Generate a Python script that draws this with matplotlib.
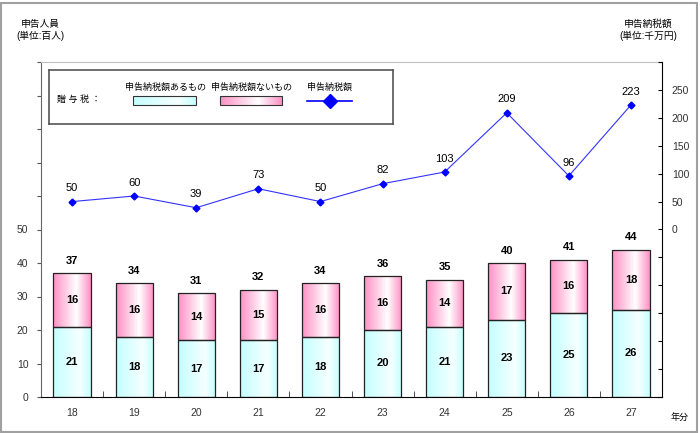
import numpy as np
import matplotlib
matplotlib.use("Agg")
import matplotlib.pyplot as plt
from matplotlib.colors import LinearSegmentedColormap
from matplotlib.patches import Rectangle
from matplotlib.lines import Line2D

plt.rcParams["font.family"] = ["Liberation Sans", "Noto Sans CJK JP", "DejaVu Sans"]

# data
years = ["18", "19", "20", "21", "22", "23", "24", "25", "26", "27"]
with_tax = [21, 18, 17, 17, 18, 20, 21, 23, 25, 26]      # 申告納税額あるもの (百人)
without_tax = [16, 16, 14, 15, 16, 16, 14, 17, 16, 18]   # 申告納税額ないもの (百人)
totals = [37, 34, 31, 32, 34, 36, 35, 40, 41, 44]
tax_amount = [50, 60, 39, 73, 50, 82, 103, 209, 96, 223]  # 申告納税額 (千万円)

W, H = 700, 433
cyan_cmap = LinearSegmentedColormap.from_list(
    "cy", [(0, "#c4ffff"), (0.72, "#f6ffff"), (1, "#c4ffff")])
pink_cmap = LinearSegmentedColormap.from_list(
    "pk", [(0, "#ff8fc4"), (0.62, "#ffffff"), (1, "#ff8fc4")])


def px(x0, y0, x1, y1):
    # pixel box (top-left origin) -> figure fraction rect
    return [x0 / W, 1 - y1 / H, (x1 - x0) / W, (y1 - y0) / H]


def fill_gradient(ax, patches, cmap):
    grad = np.linspace(0, 1, 128).reshape(1, -1)
    for p in patches:
        x, y = p.get_x(), p.get_y()
        im = ax.imshow(grad, cmap=cmap, aspect="auto", interpolation="bilinear",
                       extent=(x, x + p.get_width(), y, y + p.get_height()),
                       zorder=1)
        im.set_clip_path(p)


fig = plt.figure(figsize=(7, 4.33), dpi=100, facecolor="white")
fig.patches.append(Rectangle((1 / W, 1 / H), 1 - 4 / W, 1 - 4 / H, transform=fig.transFigure,
                             fill=False, edgecolor="#a0a0a0", linewidth=1.5))

ax = fig.add_axes(px(41, 62, 662, 397))
x = np.arange(len(years))
b1 = ax.bar(x, with_tax, width=0.6, facecolor="none", edgecolor="#222222",
            linewidth=0.9, zorder=2)
b2 = ax.bar(x, without_tax, width=0.6, bottom=with_tax, facecolor="none",
            edgecolor="#222222", linewidth=0.9, zorder=2)
fill_gradient(ax, b1, cyan_cmap)
fill_gradient(ax, b2, pink_cmap)

for i in range(len(years)):
    ax.text(x[i], with_tax[i] / 2, str(with_tax[i]), ha="center", va="center",
            fontsize=8, fontweight="bold", zorder=3)
    ax.text(x[i], with_tax[i] + without_tax[i] / 2, str(without_tax[i]),
            ha="center", va="center", fontsize=8, fontweight="bold", zorder=3)
    ax.text(x[i], totals[i] + 2.2, str(totals[i]), ha="center", va="bottom",
            fontsize=8, fontweight="bold", zorder=3)

ax.set_xlim(-0.5, len(years) - 0.5)
ax.set_ylim(0, 100)
ax.set_autoscale_on(False)
ax.set_yticks(np.arange(0, 101, 10))
ax.set_yticklabels([str(v) if v <= 50 else "" for v in range(0, 101, 10)])
ax.set_xticks(x)
ax.set_xticklabels(years)
ax.set_xticks(np.arange(0.5, len(years) - 1, 1), minor=True)
ax.tick_params(axis="x", which="major", length=0, pad=8, labelsize=7.5, labelcolor="#333333")
ax.tick_params(axis="x", which="minor", direction="in", length=4, color="#333333")
ax.tick_params(axis="y", direction="out", length=3, pad=6, labelsize=7.5,
               labelcolor="#333333", color="#555555")
ax.spines["left"].set_color("#666666")
ax.spines["top"].set_color("#c0c0c0")
ax.spines["bottom"].set_color("#000000")
ax.spines["right"].set_visible(False)

ax2 = ax.twinx()
ax2.plot(x, tax_amount, color="#3333ff", linewidth=0.8, marker="D",
         markersize=3.5, markerfacecolor="#0000ff", markeredgecolor="#0000ff", zorder=4)
for i in range(len(years)):
    ax2.text(x[i], tax_amount[i] + 15, str(tax_amount[i]), ha="center",
             va="bottom", fontsize=8, zorder=4)
ax2.set_ylim(-300, 300)
ax2.set_yticks(np.arange(-300, 301, 50))
ax2.set_yticklabels([str(v) if 0 <= v <= 250 else "" for v in range(-300, 301, 50)])
ax2.tick_params(axis="y", direction="in", length=3, pad=7, labelsize=7.5,
                labelcolor="#333333")
ax2.spines["right"].set_color("#000000")
for s in ("left", "top", "bottom"):
    ax2.spines[s].set_visible(False)

# legend box
lg = fig.add_axes(px(49, 70, 393, 124))
lg.set_xlim(49, 393)
lg.set_ylim(124, 70)
lg.set_xticks([])
lg.set_yticks([])
for s in lg.spines.values():
    s.set_color("#555555")
    s.set_linewidth(1.2)
grad = np.linspace(0, 1, 128).reshape(1, -1)
lg.imshow(grad, cmap=cyan_cmap, aspect="auto", extent=(133, 196, 105, 96))
lg.add_patch(Rectangle((133, 96), 63, 9, fill=False, edgecolor="#333333", linewidth=0.8))
lg.imshow(grad, cmap=pink_cmap, aspect="auto", extent=(220, 282, 105, 96))
lg.add_patch(Rectangle((220, 96), 62, 9, fill=False, edgecolor="#333333", linewidth=0.8))
lg.add_line(Line2D([307, 352], [101, 101], color="#0000ff", linewidth=1.2))
lg.plot([330], [101], marker="D", markersize=7, color="#0000ff")
lg.set_xlim(49, 393)
lg.set_ylim(124, 70)
lg.text(57, 99, "贈 与 税 ：", ha="left", va="center", fontsize=6.5)
lg.text(165, 87, "申告納税額あるもの", ha="center", va="center", fontsize=6.5)
lg.text(251, 87, "申告納税額ないもの", ha="center", va="center", fontsize=6.5)
lg.text(329, 87, "申告納税額", ha="center", va="center", fontsize=6.5)

fig.text(40 / W, 1 - 30 / H, "申告人員\n(単位:百人)", ha="center", va="center",
         fontsize=7, linespacing=1.2)
fig.text(648 / W, 1 - 30 / H, "申告納税額\n(単位:千万円)", ha="center", va="center",
         fontsize=7, linespacing=1.2)
fig.text(680 / W, 1 - 417 / H, "年分", ha="center", va="center", fontsize=6.5)

fig.savefig("out.png", dpi=100, facecolor="white")
